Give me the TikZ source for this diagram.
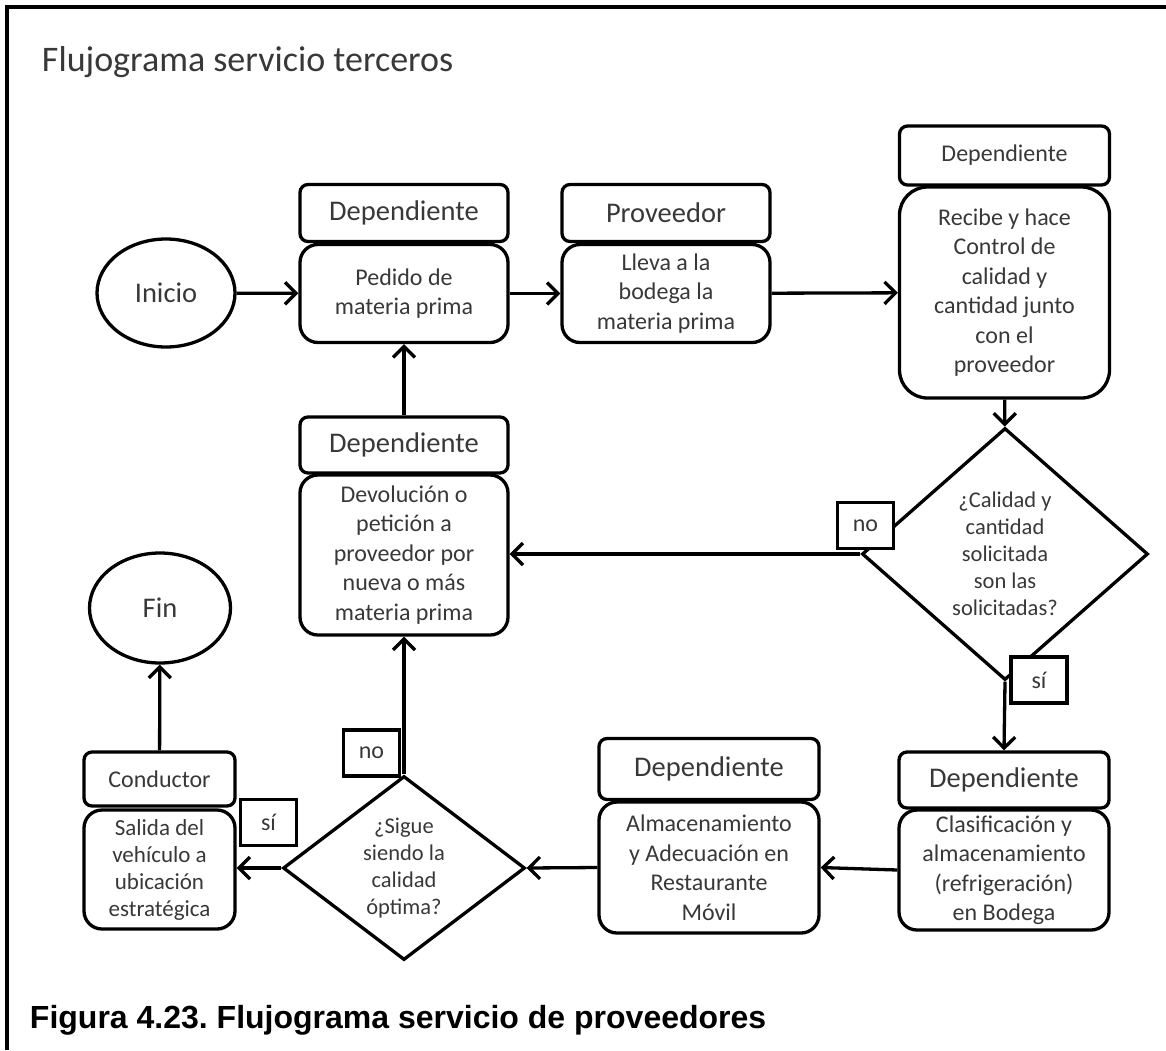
\documentclass[tikz,border=0pt]{standalone}
\usepackage{fontspec}
\setmainfont{Carlito}
\newfontfamily\piefont{Liberation Sans}
\usetikzlibrary{shapes.geometric}
\usetikzlibrary{arrows.meta}
\frenchspacing
\newcommand{\hdrfont}{\fontsize{28.5}{34}\selectfont}
\newcommand{\chicofont}{\fontsize{24}{29}\selectfont}
\newcommand{\txtfont}{\fontsize{24}{29.5}\selectfont}
\newcommand{\diafont}{\fontsize{22.5}{27}\selectfont}

\begin{document}
\begin{tikzpicture}[x=1pt, y=-1pt, line width=3.3pt,
        >={Straight Barb[length=11pt, width=22pt]},
        hdr/.style={draw, text=black!78, rounded corners=8, minimum width=208, minimum height=57, inner sep=0, font=\hdrfont},
        proc/.style={draw, text=black!78, rounded corners=18, minimum width=208, inner sep=0, align=center, font=\txtfont},
        term/.style={draw, text=black!78, ellipse, minimum width=138, minimum height=108, inner sep=0, font=\hdrfont},
        dec/.style={draw, text=black!78, diamond, inner sep=0, align=center, font=\diafont},
        lbl/.style={draw, text=black!78, fill=white, minimum width=56, minimum height=46, inner sep=0, font=\txtfont}]

            \useasboundingbox (0,0) rectangle (1166,1050);
            \draw (7,1050) -- (7,7) -- (1166,7);

            \node[anchor=base west, text=black!78, font=\fontsize{36}{41}\selectfont] (titulo) at (37,71) {Flujograma servicio terceros};

            \node[term] (inicio) at (166,293) {Inicio};
            \node[hdr] (hdrA) at (404,213) {Dependiente};
            \node[proc, minimum height=98] (pedido) at (404,293.5) {Pedido de\\materia prima};
            \node[hdr] (hdrB) at (666,213) {Proveedor};
            \node[proc, minimum height=98] (lleva) at (666,293.5) {Lleva a la\\bodega la\\materia prima};
            \node[hdr, font=\chicofont, minimum width=210, minimum height=59] (hdrC) at (1004.5,155.5) {Dependiente};
            \node[proc, rounded corners=28, minimum width=210, minimum height=211] (recibe) at (1004.5,292.5) {Recibe y hace\\Control de\\calidad y\\cantidad junto\\con el\\proveedor};

            \node[dec, minimum width=286, minimum height=252, aspect=1.13] (dia1) at (1005,554) {¿Calidad y\\cantidad\\solicitada\\son las\\solicitadas?};

            \node[hdr, minimum height=56] (hdrD) at (404,445) {Dependiente};
            \node[proc, minimum height=160] (devol) at (404,555) {Devolución o\\petición a\\proveedor por\\nueva o más\\materia prima};

            \node[hdr, minimum width=210, minimum height=56] (clasH) at (1004,780) {Dependiente};
            \node[proc, minimum width=210, minimum height=120] (clas) at (1004,870) {Clasificación y\\almacenamiento\\(refrigeración)\\en Bodega};
            \node[hdr, minimum width=220, minimum height=61] (almH) at (709,769) {Dependiente};
            \node[proc, minimum width=220, minimum height=131] (alm) at (709,867.5) {Almacenamiento\\y Adecuación en\\Restaurante\\Móvil};

            \node[dec, minimum width=242, minimum height=184, aspect=1.3] (dia2) at (404,868) {¿Sigue\\siendo la\\calidad\\óptima?};

            \node[term, minimum width=141, minimum height=110] (fin) at (160,608) {Fin};
            \node[hdr, font=\chicofont, minimum width=151, minimum height=54] (condH) at (159.5,779) {Conductor};
            \node[proc, font=\fontsize{23}{27}\selectfont, minimum width=151, minimum height=119] (salida) at (159.5,869.5) {Salida del\\vehículo a\\ubicación\\estratégica};

            \draw [->] (inicio) -- (pedido);
            \draw [->] (pedido) -- (lleva);
            \draw [->] (lleva) -- (recibe);
            \draw [->] (recibe) -- (dia1);
            \draw [->] (dia1.west) -- (dia1.west -| devol.east);
            \draw [->] (hdrD) -- (pedido);
            \draw [->] (dia1.south) -- (clasH.north);
            \draw [->] (clas.west) -- (alm.east);
            \draw [->] (alm.west) -- (dia2.east);
            \draw [->] (dia2.north) -- (devol.south);
            \draw [->] (dia2.west) -- (dia2.west -| salida.east);
            \draw [->] (condH) -- (fin);

            \node[lbl] (no1) at (865.5,525.5) {no};
            \node[lbl] (si1) at (1039,680) {sí};
            \node[lbl] (no2) at (371.5,753) {no};
            \node[lbl] (si2) at (268.5,822.5) {sí};

            \node[anchor=base west, font=\piefont\bfseries\fontsize{32}{38}\selectfont] (pie) at (25,1028) {Figura 4.23. Flujograma servicio de proveedores};
        \end{tikzpicture}
\end{document}
